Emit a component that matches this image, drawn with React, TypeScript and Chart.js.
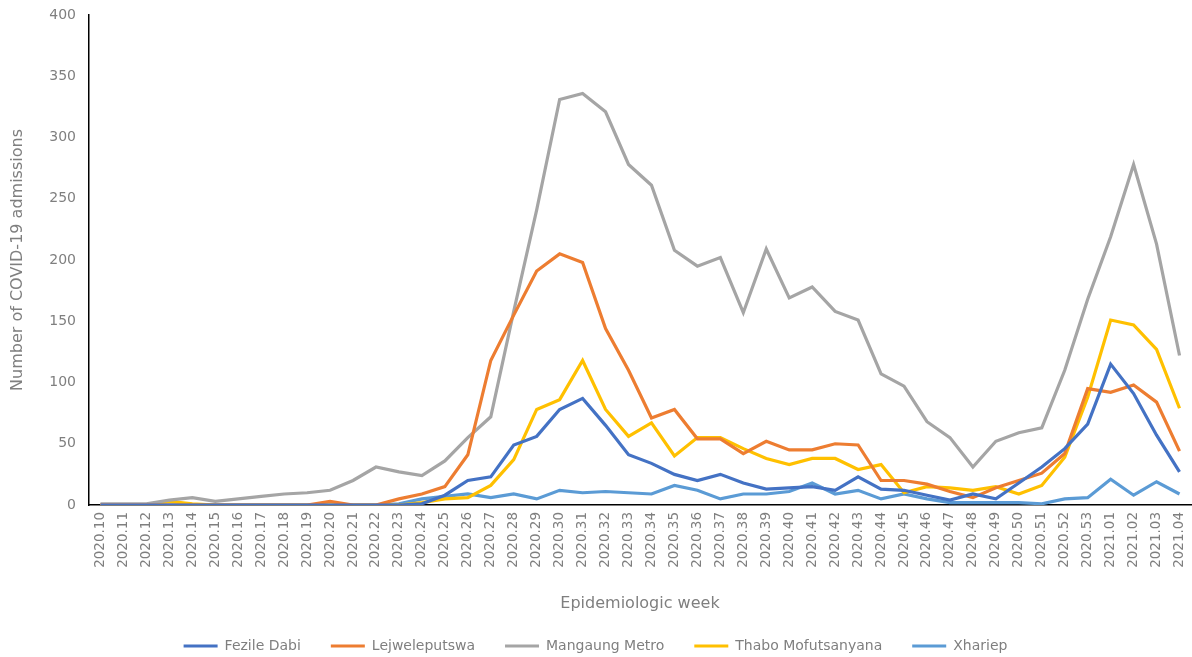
import React, { useEffect, useRef } from "react";
import { Chart, registerables } from "chart.js";

Chart.register(...registerables);

const weeks = [
  "2020.10","2020.11","2020.12","2020.13","2020.14","2020.15","2020.16","2020.17","2020.18","2020.19",
  "2020.20","2020.21","2020.22","2020.23","2020.24","2020.25","2020.26","2020.27","2020.28","2020.29",
  "2020.30","2020.31","2020.32","2020.33","2020.34","2020.35","2020.36","2020.37","2020.38","2020.39",
  "2020.40","2020.41","2020.42","2020.43","2020.44","2020.45","2020.46","2020.47","2020.48","2020.49",
  "2020.50","2020.51","2020.52","2020.53","2021.01","2021.02","2021.03","2021.04",
];

const fezileDabi = [0,0,0,0,0,0,0,0,0,0,0,0,0,0,1,8,20,23,49,56,78,87,65,41,34,25,20,25,18,13,14,15,12,23,13,12,8,4,9,5,18,31,46,66,115,91,57,27];
const lejweleputswa = [0,0,0,0,0,0,0,0,0,0,3,0,0,5,9,15,41,118,155,191,205,198,144,110,71,78,54,54,42,52,45,45,50,49,20,20,17,11,6,14,20,26,42,95,92,98,84,44];
const mangaungMetro = [1,1,1,4,6,3,5,7,9,10,12,20,31,27,24,36,55,72,158,241,331,336,321,278,261,208,195,202,157,209,169,178,158,151,107,97,68,55,31,52,59,63,110,168,219,278,213,122];
const thaboMofutsanyana = [0,0,0,3,1,0,0,0,0,0,0,0,0,0,2,5,6,16,37,78,86,118,78,56,67,40,55,55,46,38,33,38,38,29,33,10,15,14,12,15,9,16,39,88,151,147,127,79];
const xhariep = [0,0,0,0,0,0,0,0,0,0,0,0,0,1,5,7,9,6,9,5,12,10,11,10,9,16,12,5,9,9,11,18,9,12,5,9,5,2,2,2,2,1,5,6,21,8,19,9];

const seriesNames = ["Fezile Dabi", "Lejweleputswa", "Mangaung Metro", "Thabo Mofutsanyana", "Xhariep"];
const seriesColors = ["#4472C4", "#ED7D31", "#A5A5A5", "#FFC000", "#5B9BD5"];
const seriesValues = [fezileDabi, lejweleputswa, mangaungMetro, thaboMofutsanyana, xhariep];

const FONT = "'DejaVu Sans', sans-serif";
const GREY = "#7f7f7f";

export default function App() {
  const ref = useRef<HTMLCanvasElement | null>(null);

  useEffect(() => {
    if (!ref.current) return;
    const chart = new Chart(ref.current, {
      type: "line",
      data: {
        labels: weeks,
        datasets: seriesNames.map((name, i) => ({
          label: name,
          data: seriesValues[i],
          borderColor: seriesColors[i],
          backgroundColor: seriesColors[i],
          borderWidth: 3.2,
          pointRadius: 0,
          tension: 0,
          fill: false,
        })),
      },
      options: {
        animation: false,
        responsive: false,
        devicePixelRatio: 1,
        layout: { padding: { top: 15, right: 1, bottom: -6, left: 0 } },
        plugins: {
          tooltip: { enabled: false },
          legend: {
            position: "bottom",
            labels: {
              boxWidth: 34,
              boxHeight: 3,
              padding: 30,
              color: GREY,
              font: { family: FONT, size: 14 },
              generateLabels: (c: any) =>
                c.data.datasets.map((d: any, i: number) => ({
                  text: d.label,
                  fillStyle: d.borderColor,
                  strokeStyle: d.borderColor,
                  lineWidth: 0,
                  fontColor: GREY,
                  hidden: false,
                  datasetIndex: i,
                })),
            },
          },
        },
        scales: {
          x: {
            offset: true,
            grid: { display: false, drawTicks: false },
            border: { display: true, color: "#000000", width: 1.5 },
            ticks: {
              color: GREY,
              font: { family: FONT, size: 13.5 },
              minRotation: 90,
              maxRotation: 90,
              autoSkip: false,
              padding: 7,
            },
            title: {
              display: true,
              text: "Epidemiologic week",
              color: GREY,
              font: { family: FONT, size: 16 },
              padding: { top: 0, bottom: -4 },
            },
            afterFit: (s: any) => {
              s.height = 104;
              s.paddingLeft = 0;
              s.paddingRight = 0;
            },
          },
          y: {
            min: 0,
            max: 400,
            grid: { display: false, drawTicks: false },
            border: { display: true, color: "#000000", width: 1.5 },
            ticks: {
              stepSize: 50,
              color: GREY,
              font: { family: FONT, size: 14 },
              padding: 13,
            },
            title: {
              display: true,
              text: "Number of COVID-19 admissions",
              color: GREY,
              font: { family: FONT, size: 16 },
              padding: { top: 8, bottom: 0 },
            },
            afterFit: (s: any) => {
              s.width = 89;
              s.paddingTop = 0;
              s.paddingBottom = 0;
            },
          },
        },
      },
    });
    return () => chart.destroy();
  }, []);

  return (
    <div style={{ position: "absolute", left: 0, top: 0, width: 1192, height: 657, background: "#fff" }}>
      <canvas ref={ref} width={1192} height={657} style={{ width: 1192, height: 657, display: "block" }} />
    </div>
  );
}
